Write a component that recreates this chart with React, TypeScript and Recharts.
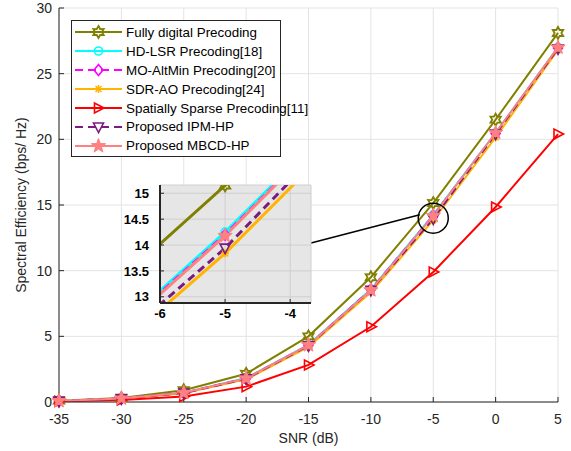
import React from "react";
import { LineChart, Line, XAxis, YAxis, CartesianGrid, ReferenceDot, ReferenceLine } from "recharts";

// SNR (dB) on the x axis
const snr = [-35, -30, -25, -20, -15, -10, -5, 0, 5];

// spectral efficiency (bps/Hz) per scheme
const fullyDigital = [0.1, 0.3, 0.9, 2.15, 5.0, 9.5, 15.15, 21.5, 28.1];
const hdLsr = [0.08, 0.27, 0.7, 1.82, 4.35, 8.58, 14.25, 20.5, 27.0];
const moAltMin = [0.08, 0.27, 0.7, 1.8, 4.33, 8.56, 14.2, 20.45, 26.95];
const sdrAo = [0.07, 0.25, 0.66, 1.72, 4.2, 8.35, 13.84, 20.15, 26.8];
const sparse = [0.05, 0.15, 0.42, 1.17, 2.82, 5.73, 9.9, 14.85, 20.4];
const ipmHp = [0.07, 0.26, 0.68, 1.76, 4.28, 8.5, 13.94, 20.4, 26.9];
const mbcdHp = [0.08, 0.27, 0.7, 1.8, 4.33, 8.52, 14.18, 20.5, 27.0];

const xTicks = [-35, -30, -25, -20, -15, -10, -5, 0, 5];
const yTicks = [0, 5, 10, 15, 20, 25, 30];
const insetXTicks = [-6, -5, -4];
const insetYTicks = [13, 13.5, 14, 14.5, 15];

const data = snr.map((s, i) => ({
  snr: s,
  fd: fullyDigital[i],
  hd: hdLsr[i],
  mo: moAltMin[i],
  sdr: sdrAo[i],
  sp: sparse[i],
  ipm: ipmHp[i],
  mbcd: mbcdHp[i],
}));

const series = [
  { key: "fd", name: "Fully digital Precoding", color: "#808000", dash: "", marker: "hexagram" },
  { key: "hd", name: "HD-LSR Precoding[18]", color: "#00FFFF", dash: "", marker: "circle" },
  { key: "mo", name: "MO-AltMin Precoding[20]", color: "#FF00FF", dash: "8 5", marker: "diamond" },
  { key: "sdr", name: "SDR-AO Precoding[24]", color: "#FFB400", dash: "", marker: "asterisk" },
  { key: "sp", name: "Spatially Sparse Precoding[11]", color: "#FF0000", dash: "", marker: "triRight" },
  { key: "ipm", name: "Proposed IPM-HP", color: "#7B1B7E", dash: "8 5", marker: "triDown" },
  { key: "mbcd", name: "Proposed MBCD-HP", color: "#FF8080", dash: "", marker: "pentagram" },
];

const FONT = "'Liberation Sans', Arial, Helvetica, sans-serif";
const AX = "#262626";

function starPts(cx: number, cy: number, n: number, ro: number, ri: number) {
  const pts: string[] = [];
  for (let i = 0; i < 2 * n; i++) {
    const r = i % 2 === 0 ? ro : ri;
    const a = -Math.PI / 2 + (i * Math.PI) / n;
    pts.push(`${cx + r * Math.cos(a)},${cy + r * Math.sin(a)}`);
  }
  return pts.join(" ");
}

function Marker({ kind, cx, cy, color }: { kind: string; cx: number; cy: number; color: string }) {
  if (cx == null || cy == null || isNaN(cx) || isNaN(cy)) return null;
  switch (kind) {
    case "hexagram":
      return <polygon points={starPts(cx, cy, 6, 6, 3.4)} fill="none" stroke={color} strokeWidth={1.8} />;
    case "circle":
      return <circle cx={cx} cy={cy} r={4} fill="none" stroke={color} strokeWidth={1.6} />;
    case "diamond":
      return (
        <polygon
          points={`${cx},${cy - 5.5} ${cx + 4.5},${cy} ${cx},${cy + 5.5} ${cx - 4.5},${cy}`}
          fill="none"
          stroke={color}
          strokeWidth={1.6}
        />
      );
    case "asterisk":
      return (
        <g stroke={color} strokeWidth={1.6}>
          <line x1={cx - 4} y1={cy} x2={cx + 4} y2={cy} />
          <line x1={cx} y1={cy - 4} x2={cx} y2={cy + 4} />
          <line x1={cx - 3} y1={cy - 3} x2={cx + 3} y2={cy + 3} />
          <line x1={cx - 3} y1={cy + 3} x2={cx + 3} y2={cy - 3} />
        </g>
      );
    case "triRight":
      return (
        <polygon
          points={`${cx + 5.5},${cy} ${cx - 4},${cy - 5} ${cx - 4},${cy + 5}`}
          fill="none"
          stroke={color}
          strokeWidth={1.6}
        />
      );
    case "triDown":
      return (
        <polygon
          points={`${cx},${cy + 5.5} ${cx - 5},${cy - 4} ${cx + 5},${cy - 4}`}
          fill="none"
          stroke={color}
          strokeWidth={1.6}
        />
      );
    case "pentagram":
      return <polygon points={starPts(cx, cy, 5, 7.5, 3.1)} fill={color} stroke={color} strokeWidth={1} />;
    default:
      return null;
  }
}

function makeDot(kind: string, color: string) {
  return (p: any) => <Marker key={`m-${p.index}`} kind={kind} cx={p.cx} cy={p.cy} color={color} />;
}

function Legend() {
  return (
    <div
      style={{
        position: "absolute",
        left: 71,
        top: 20,
        width: 210,
        height: 137,
        boxSizing: "border-box",
        border: `1px solid ${AX}`,
        background: "#fff",
        paddingTop: 2,
        fontFamily: FONT,
        fontSize: 13.4,
        color: "#000",
        overflow: "visible",
      }}
    >
      {series.map((s) => (
        <div key={s.key} style={{ display: "flex", alignItems: "center", height: 18.9, whiteSpace: "nowrap" }}>
          <svg width={52} height={18} style={{ display: "block", flexShrink: 0 }}>
            <line x1={3} y1={9} x2={50} y2={9} stroke={s.color} strokeWidth={2} strokeDasharray={s.dash || undefined} />
            <Marker kind={s.marker} cx={26.5} cy={9} color={s.color} />
          </svg>
          <span style={{ marginLeft: 2, flexShrink: 0 }}>{s.name}</span>
        </div>
      ))}
    </div>
  );
}

function Inset() {
  const tickStyle = { fill: "#000", fontSize: 13, fontWeight: 700, fontFamily: FONT };
  return (
    <div style={{ position: "absolute", left: 110, top: 180 }}>
      <LineChart width={205} height={145} data={data} margin={{ top: 5, right: 4, left: 0, bottom: 0 }}>
        <CartesianGrid fill="#e6e6e6" stroke="#cfcfcf" strokeWidth={1} />
        <XAxis
          dataKey="snr"
          type="number"
          domain={[-6, -3.68]}
          allowDataOverflow
          ticks={insetXTicks}
          height={22}
          tickSize={-4}
          tickMargin={10}
          tick={tickStyle}
          axisLine={{ stroke: AX, strokeWidth: 2 }}
          tickLine={{ stroke: AX }}
        />
        <YAxis
          type="number"
          domain={[12.88, 15.16]}
          allowDataOverflow
          ticks={insetYTicks}
          width={50}
          tickSize={-4}
          tickMargin={15}
          tick={tickStyle}
          axisLine={{ stroke: AX, strokeWidth: 2 }}
          tickLine={{ stroke: AX }}
        />
        <XAxis
          xAxisId="top"
          orientation="top"
          type="number"
          domain={[-6, -3.68]}
          allowDataOverflow
          ticks={insetXTicks}
          height={0}
          tickSize={-4}
          tick={false}
          axisLine={{ stroke: AX, strokeWidth: 2 }}
          tickLine={{ stroke: AX }}
        />
        <YAxis
          yAxisId="right"
          orientation="right"
          type="number"
          domain={[12.88, 15.16]}
          allowDataOverflow
          ticks={insetYTicks}
          width={0}
          tickSize={-4}
          tick={false}
          axisLine={{ stroke: AX, strokeWidth: 2 }}
          tickLine={{ stroke: AX }}
        />
        {series.map((s) => (
          <Line
            key={s.key}
            dataKey={s.key}
            stroke={s.color}
            strokeWidth={3}
            strokeDasharray={s.dash || undefined}
            dot={makeDot(s.marker, s.color)}
            activeDot={false}
            isAnimationActive={false}
          />
        ))}
      </LineChart>
    </div>
  );
}

export default function App() {
  const tickStyle = { fill: AX, fontSize: 14, fontFamily: FONT };
  return (
    <div style={{ position: "absolute", left: 0, top: 0, width: 571, height: 451, background: "#fff" }}>
      <LineChart width={571} height={451} data={data} margin={{ top: 8, right: 13, left: 0, bottom: 0 }}>
        <CartesianGrid stroke="#e3e3e3" strokeWidth={1} />
        <XAxis
          dataKey="snr"
          type="number"
          domain={[-35, 5]}
          ticks={xTicks}
          height={49}
          tickSize={-5}
          tickMargin={17}
          tick={tickStyle}
          axisLine={{ stroke: AX }}
          tickLine={{ stroke: AX }}
          label={{ value: "SNR (dB)", position: "insideBottom", offset: 8, fill: AX, fontSize: 14, fontFamily: FONT }}
        />
        <YAxis
          type="number"
          domain={[0, 30]}
          ticks={yTicks}
          width={59}
          tickSize={-5}
          tickMargin={12}
          tick={tickStyle}
          axisLine={{ stroke: AX }}
          tickLine={{ stroke: AX }}
          label={{
            value: "Spectral Efficiency (bps/ Hz)",
            angle: -90,
            position: "center",
            dx: -8,
            fill: AX,
            fontSize: 14,
            fontFamily: FONT,
          }}
        />
        <XAxis
          xAxisId="top"
          orientation="top"
          type="number"
          domain={[-35, 5]}
          allowDataOverflow
          ticks={xTicks}
          height={0}
          tickSize={-5}
          tick={false}
          axisLine={{ stroke: AX }}
          tickLine={{ stroke: AX }}
        />
        <YAxis
          yAxisId="right"
          orientation="right"
          type="number"
          domain={[0, 30]}
          allowDataOverflow
          ticks={yTicks}
          width={0}
          tickSize={-5}
          tick={false}
          axisLine={{ stroke: AX }}
          tickLine={{ stroke: AX }}
        />
        {series.map((s) => (
          <Line
            key={s.key}
            dataKey={s.key}
            stroke={s.color}
            strokeWidth={2}
            strokeDasharray={s.dash || undefined}
            dot={makeDot(s.marker, s.color)}
            activeDot={false}
            isAnimationActive={false}
          />
        ))}
        <ReferenceLine
          segment={[
            { x: -14.8, y: 12.1 },
            { x: -6.08, y: 14.25 },
          ]}
          stroke="#000"
          strokeWidth={1.5}
        />
        <ReferenceDot x={-5} y={14.0} r={15} fill="none" stroke="#000" strokeWidth={1.5} />
      </LineChart>
      <Inset />
      <Legend />
    </div>
  );
}
